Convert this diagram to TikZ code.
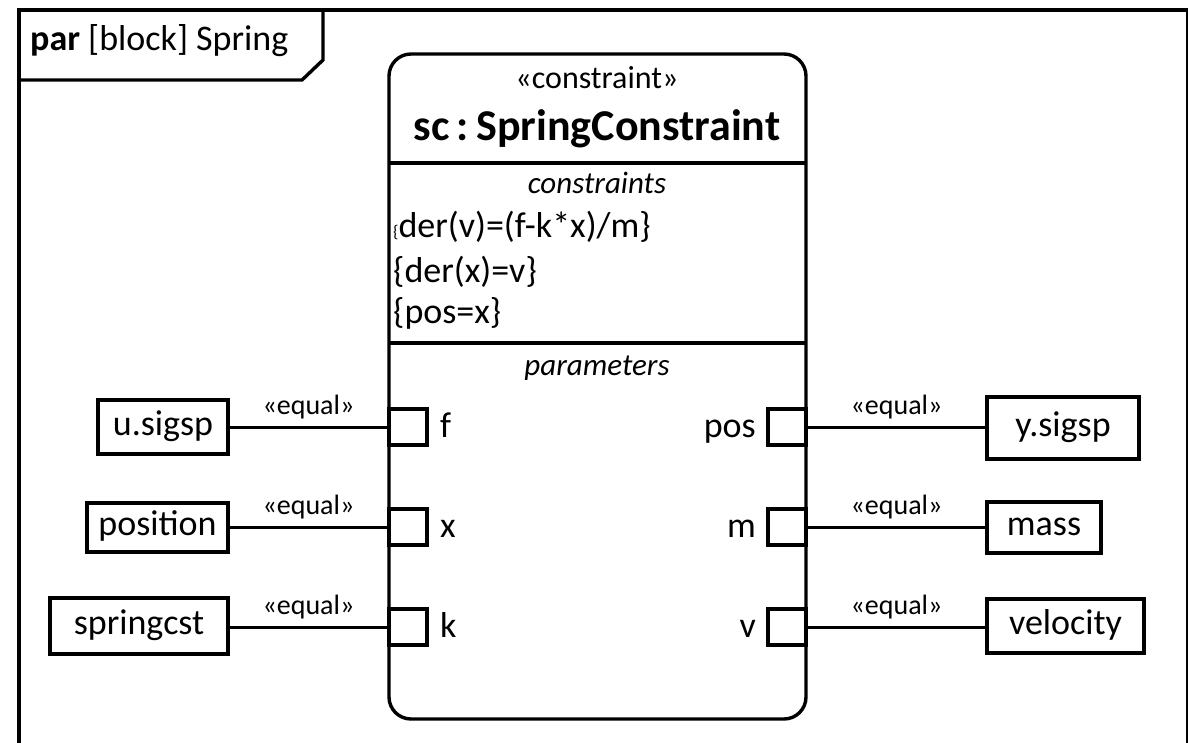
\documentclass[tikz,border=0pt]{standalone}
\usepackage{fontspec}
\setmainfont{Carlito}
\begin{document}
\begin{tikzpicture}[x=1pt,y=-1pt,
  lw/.style={line width=3.4pt},
  valbox/.style={draw,lw,rectangle,inner sep=0pt,font=\fontsize{36}{36}\selectfont,text height=24pt,text depth=8pt},
  portbox/.style={draw,lw,rectangle,inner sep=0pt,minimum width=38pt,minimum height=36pt,fill=white},
  conn/.style={line width=3pt},
  stereo/.style={font=\fontsize{28}{28}\selectfont,anchor=base,inner sep=0pt},
  body/.style={font=\fontsize{36}{36}\selectfont,inner sep=0pt},
]
\useasboundingbox (0,0) rectangle (1188,742);
\begin{scope}
\clip (0,0) rectangle (1188,742);
% frame
\draw[lw] (19,780) -- (19,10) -- (1188,10) -- (1188,780);
\coordinate (tl) at (19,10);
\draw[lw] (tl) -- (323,10) -- (323,60) -- (302,80) -- (19,80);
\node[body,anchor=base west] (title) at (30,50) {\textbf{par} [block] Spring};
% block
\draw[lw,rounded corners=22pt] (389,54) rectangle (806,719);
\coordinate (blk) at (597,54);
\draw[lw] (389,163) -- (806,163);
\draw[lw] (389,343) -- (806,343);
\node[body,anchor=base,font=\fontsize{32}{32}\selectfont] (st) at (597,88) {«constraint»};
\node[body,anchor=base,font=\fontsize{44}{44}\selectfont\bfseries] (bname) at (597,140) {sc\,:\,SpringConstraint};
\node[body,anchor=base,font=\fontsize{31}{31}\selectfont\itshape] (cons) at (597,193) {constraints};
\node[body,anchor=base west] (c1) at (393,237) {{\fontsize{17}{17}\selectfont\{}der(v)=(f-k*x)/m\}};
\node[body,anchor=base west] (c2) at (393,282) {\{der(x)=v\}};
\node[body,anchor=base west] (c3) at (393,323) {\{pos=x\}};
\node[body,anchor=base,font=\fontsize{31}{31}\selectfont\itshape] (params) at (597,375) {parameters};
% ports
\node[portbox] (pf) at (408,427) {};
\node[portbox] (px) at (408,527) {};
\node[portbox] (pk) at (408,627) {};
\node[portbox] (ppos) at (787,427) {};
\node[portbox] (pm) at (787,527) {};
\node[portbox] (pv) at (787,627) {};
\node[body,anchor=base west] (lf) at (440,437) {f};
\node[body,anchor=base west] (lx) at (440,537) {x};
\node[body,anchor=base west] (lk) at (440,637) {k};
\node[body,anchor=base east] (lpos) at (756,437) {pos};
\node[body,anchor=base east] (lm) at (756,537) {m};
\node[body,anchor=base east] (lv) at (756,637) {v};
% value boxes
\node[valbox,minimum width=130pt,minimum height=54pt] (bu) at (163,427) {u.sigsp};
\node[valbox,minimum width=141pt,minimum height=49pt] (bp) at (157.5,527.5) {position};
\node[valbox,minimum width=178pt,minimum height=56pt] (bk) at (139,626) {springcst};
\node[valbox,minimum width=152pt,minimum height=62pt] (by) at (1063,428) {y.sigsp};
\node[valbox,minimum width=114pt,minimum height=51pt] (bm) at (1044,527.5) {mass};
\node[valbox,minimum width=157pt,minimum height=54pt] (bv) at (1065.5,626) {velocity};
% connectors
\draw[conn] (bu.east |- pf.west) -- (pf.west) node[stereo,midway,above=6pt] {«equal»};
\draw[conn] (bp.east |- px.west) -- (px.west) node[stereo,midway,above=6pt] {«equal»};
\draw[conn] (bk.east |- pk.west) -- (pk.west) node[stereo,midway,above=6pt] {«equal»};
\draw[conn] (ppos.east) -- (by.west |- ppos.east) node[stereo,midway,above=6pt] {«equal»};
\draw[conn] (pm.east) -- (bm.west |- pm.east) node[stereo,midway,above=6pt] {«equal»};
\draw[conn] (pv.east) -- (bv.west |- pv.east) node[stereo,midway,above=6pt] {«equal»};
\end{scope}
\end{tikzpicture}
\end{document}
